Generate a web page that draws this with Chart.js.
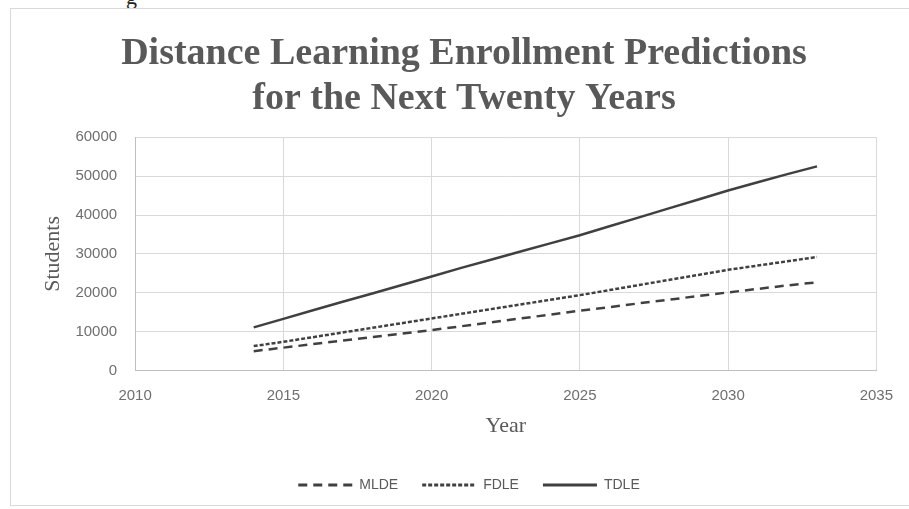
<!DOCTYPE html>
<html>
<head>
<meta charset="utf-8">
<script src="https://cdn.jsdelivr.net/npm/chart.js@4/dist/chart.umd.min.js"></script>
<style>
  html, body { margin: 0; padding: 0; background: #fff; overflow: hidden; }
  #wrap { position: relative; width: 909px; height: 509px; }
  #frame { position: absolute; left: 10px; top: 8px; width: 905px; height: 496px; border: 1px solid #d9d9d9; }
  #frag { position: absolute; left: 126px; top: -16px; font: 22px "Liberation Serif", serif; color: #222; }
  #chart { position: absolute; left: 0; top: 0; }
</style>
</head>
<body>
<div id="wrap">
  <div id="frag">g</div>
  <div id="frame"></div>
  <canvas id="chart" width="909" height="509"></canvas>
</div>
<script>
// --- Data ---
const years = [2014, 2015, 2016, 2017, 2018, 2019, 2020, 2021, 2022, 2023,
               2024, 2025, 2026, 2027, 2028, 2029, 2030, 2031, 2032, 2033];
const mlde = [5000, 5900, 6800, 7700, 8600, 9500, 10400, 11400, 12400, 13400,
              14400, 15400, 16300, 17300, 18200, 19200, 20100, 21000, 21900, 22700];
const fdle = [6300, 7400, 8600, 9800, 11000, 12200, 13400, 14600, 15800, 17000,
              18200, 19400, 20700, 22000, 23300, 24600, 25900, 27000, 28100, 29200];
const tdle = [11100, 13300, 15500, 17700, 19800, 22000, 24200, 26400, 28500, 30600,
              32700, 34800, 37100, 39400, 41700, 44000, 46300, 48400, 50500, 52500];
const seriesNames = ['MLDE', 'FDLE', 'TDLE'];
const titleLines = ['Distance Learning Enrollment Predictions', 'for the Next Twenty Years'];

const lineColor = '#404040';
const textGray = '#595959';
const tickGray = '#6f6f6f';
const sans = '"Liberation Sans", sans-serif';
const serif = '"Liberation Serif", serif';

function toPoints(vals) {
    return years.map((y, i) => ({ x: y, y: vals[i] }));
}

// nudge title + legend sideways (the original is a little off-centre)
const nudgeBoxes = {
    id: 'nudgeBoxes',
    afterLayout(chart) {
        const t = chart.titleBlock;
        if (t) { t.left += 10; t.right += 10; }
        const lg = chart.legend;
        if (lg) { lg.left += 15; lg.right += 15; }
    }
};

new Chart(document.getElementById('chart').getContext('2d'), {
    type: 'line',
    data: {
        datasets: [
            { label: seriesNames[0], data: toPoints(mlde), borderColor: lineColor, backgroundColor: 'transparent',
              borderWidth: 2.5, borderDash: [9, 6], pointRadius: 0 },
            { label: seriesNames[1], data: toPoints(fdle), borderColor: lineColor, backgroundColor: 'transparent',
              borderWidth: 2.5, borderDash: [4, 2], pointRadius: 0 },
            { label: seriesNames[2], data: toPoints(tdle), borderColor: lineColor, backgroundColor: 'transparent',
              borderWidth: 2.5, pointRadius: 0 }
        ]
    },
    plugins: [nudgeBoxes],
    options: {
        responsive: false,
        animation: false,
        layout: { padding: { left: 31, right: 32, top: 22, bottom: 7 } },
        plugins: {
            title: {
                display: true,
                text: titleLines,
                color: textGray,
                font: { family: serif, size: 38, weight: 'bold', lineHeight: 1.2 },
                padding: { top: 9, bottom: 15 }
            },
            legend: {
                position: 'bottom',
                labels: {
                    color: textGray,
                    font: { family: sans, size: 14 },
                    usePointStyle: true,
                    pointStyle: 'line',
                    pointStyleWidth: 54,
                    padding: 24,
                    generateLabels(chart) {
                        const items = Chart.defaults.plugins.legend.labels.generateLabels(chart);
                        items.forEach(it => {
                            const ds = chart.data.datasets[it.datasetIndex];
                            it.lineDash = ds.borderDash || [];
                            it.lineWidth = 3;
                        });
                        return items;
                    }
                }
            },
            tooltip: { enabled: false }
        },
        scales: {
            x: {
                type: 'linear',
                min: 2010, max: 2035,
                ticks: { stepSize: 5, color: tickGray, font: { family: sans, size: 15 }, padding: 16,
                         callback: v => String(v) },
                grid: { color: '#d9d9d9', drawTicks: false },
                border: { color: '#bfbfbf' },
                title: { display: true, text: 'Year', color: textGray,
                         font: { family: serif, size: 22, lineHeight: 1.2 }, padding: { top: -8, bottom: 15 } }
            },
            y: {
                min: 0, max: 60000,
                ticks: { stepSize: 10000, color: tickGray, font: { family: sans, size: 15 }, padding: 18,
                         callback: v => String(v) },
                grid: { color: '#d9d9d9', drawTicks: false },
                border: { color: '#bfbfbf' },
                title: { display: true, text: 'Students', color: textGray,
                         font: { family: serif, size: 22, lineHeight: 1.2 }, padding: { top: 9, bottom: -9 } }
            }
        }
    }
});
</script>
</body>
</html>
